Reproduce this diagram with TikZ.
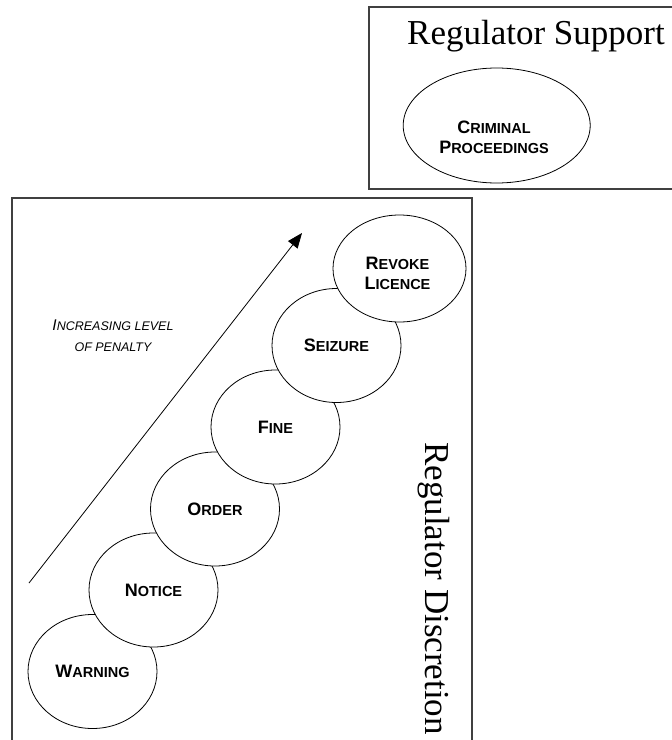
\documentclass[tikz,border=0pt]{standalone}
\usepackage{fontspec}
\setmainfont{Liberation Serif}
\newfontfamily\arialf{Liberation Sans}
\usetikzlibrary{shapes.geometric,arrows.meta}
\newcommand\scb[2]{{\fontsize{18bp}{20bp}\selectfont #1}{\fontsize{14.5bp}{20bp}\selectfont #2}}
\newcommand\sci[2]{{\fontsize{15.5bp}{21bp}\selectfont #1}{\fontsize{12.5bp}{21bp}\selectfont #2}}
\begin{document}
\begin{tikzpicture}[x=1bp,y=-1bp,
  stage/.style={ellipse, draw, fill=white, line width=0.8bp, minimum width=129bp, minimum height=114bp, inner sep=0pt, align=center,
    font=\arialf\bfseries\fontsize{14.5bp}{20bp}\selectfont},
  lbl/.style={inner sep=0pt, align=center, font=\arialf\bfseries\fontsize{14.5bp}{20bp}\selectfont},
  panel/.style={draw=black!75, line width=1.1bp},
  title/.style={font=\fontsize{35bp}{40bp}\selectfont, inner sep=0pt}]
\useasboundingbox (0,0) rectangle (672,740);
% panels
\draw[panel] (672,7) -- (369,7) -- (369,189) -- (672,189);
\draw[panel] (12,740) -- (12,198) -- (472,198) -- (472,740);
% titles
\node[title, anchor=base] (supp) at (536,45) {Regulator Support};
\node[title, rotate=-90, anchor=base] (disc) at (425,588.5) {Regulator Discretion};
% criminal proceedings
\node[stage, minimum width=187bp, minimum height=115bp] (crim) at (496.7,125.5) {};
\node[lbl] (crimtext) at (494,137) {\scb{C}{RIMINAL}\\\scb{P}{ROCEEDINGS}};
% stages
\node[stage] (warn) at (92.5,671.5) {\scb{W}{ARNING}};
\node[stage] (notice) at (153.5,590) {\scb{N}{OTICE}};
\node[stage] (order) at (215,509) {\scb{O}{RDER}};
\node[stage] (fine) at (275.5,427) {\scb{F}{INE}};
\node[stage] (seize) at (336.5,345.5) {\scb{S}{EIZURE}};
\node[stage, minimum width=133bp, minimum height=107bp] (revoke) at (399.5,268.5) {};
\node[lbl] (revoketext) at (397.5,273) {\scb{R}{EVOKE}\\\scb{L}{ICENCE}};
% arrow
\coordinate (arrS) at (29,583);
\coordinate (arrE) at (302,233);
\draw[line width=0.8bp, -{Triangle[length=15bp,width=12bp]}] (arrS) -- (arrE);
\node[inner sep=0pt, align=center, font=\arialf\itshape\fontsize{12.5bp}{21bp}\selectfont] (pen) at (113,336)
  {\sci{I}{NCREASING LEVEL}\\\sci{}{OF PENALTY}};
\end{tikzpicture}
\end{document}
